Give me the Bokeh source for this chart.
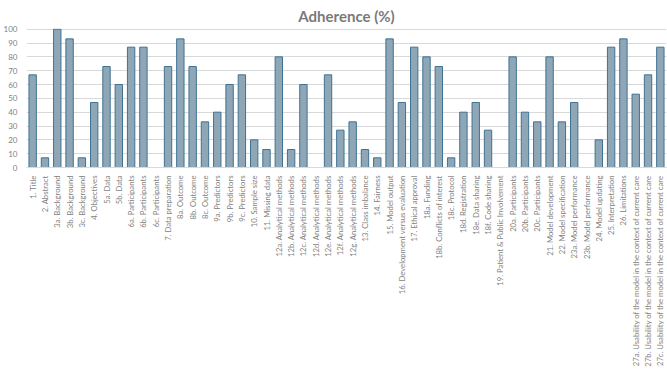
from bokeh.plotting import figure
from bokeh.models import FactorRange, Range1d, ColumnDataSource, FixedTicker
from bokeh.embed import file_html
from bokeh.resources import INLINE
import math

categories = [
    "1. Title", "2. Abstract", "3a. Background", "3b. Background", "3c. Background",
    "4. Objectives", "5a. Data", "5b. Data", "6a. Participants", "6b. Participants",
    "6c. Participants", "7. Data preparation", "8a. Outcome", "8b. Outcome", "8c. Outcome",
    "9a. Predictors", "9b. Predictors", "9c. Predictors", "10. Sample size", "11. Missing data",
    "12a. Analytical methods", "12b. Analytical methods", "12c. Analytical methods",
    "12d. Analytical methods", "12e. Analytical methods", "12f. Analytical methods",
    "12g. Analytical methods", "13. Class imbalance", "14. Fairness", "15. Model output",
    "16. Development versus evaluation", "17. Ethical approval", "18a. Funding",
    "18b. Conflicts of interest", "18c. Protocol", "18d. Registration", "18e. Data sharing",
    "18f. Code sharing", "19. Patient & Public Involvement", "20a. Participants",
    "20b. Participants", "20c. Participants", "21. Model development",
    "22. Model specification", "23a. Model performance", "23b. Model performance",
    "24. Model updating", "25. Interpretation", "26. Limitations",
    "27a. Usability of the model in the context of current care",
    "27b. Usability of the model in the context of current care",
    "27c. Usability of the model in the context of current care",
]
adherence = [
    67, 7, 100, 93, 7,
    47, 73, 60, 87, 87,
    0, 73, 93, 73, 33,
    40, 60, 67, 20, 13,
    80, 13, 60,
    0, 67, 27,
    33, 13, 7, 93,
    47, 87, 80,
    73, 7, 40, 47,
    27, 0, 80,
    40, 33, 80,
    33, 47, 0,
    20, 87, 93,
    53,
    67,
    87,
]
y_ticks = list(range(0, 101, 10))

FONT = "Lato"
src = ColumnDataSource(data=dict(cat=categories, val=adherence))

p = figure(width=667, height=369, output_backend="svg", toolbar_location=None,
           x_range=FactorRange(factors=categories, range_padding=0),
           y_range=Range1d(0, 100.5), title="Adherence (%)",
           min_border_left=0, min_border_right=1, min_border_top=0, min_border_bottom=0)

p.vbar(x="cat", top="val", width=0.6, source=src,
       fill_color="#8fa6b7", line_color="#3f7393", line_width=1)

p.title.align = "center"
p.title.text_font = FONT
p.title.text_font_size = "15px"
p.title.text_font_style = "bold"
p.title.text_color = "#7a7a7a"
p.title.standoff = 8

p.outline_line_color = None
p.xgrid.grid_line_color = None
p.ygrid.grid_line_color = "#d9d9d9"
p.ygrid.grid_line_width = 1

p.yaxis.ticker = FixedTicker(ticks=y_ticks)
p.yaxis.axis_line_color = None
p.yaxis.major_tick_line_color = None
p.yaxis.minor_tick_line_color = None
p.yaxis.major_label_text_font = FONT
p.yaxis.major_label_text_font_size = "8px"
p.yaxis.major_label_text_color = "#7f7f7f"
p.yaxis.major_label_standoff = 3

p.xaxis.axis_line_color = "#d9d9d9"
p.xaxis.major_tick_line_color = None
p.xaxis.minor_tick_line_color = None
p.xaxis.major_label_orientation = math.pi / 2
p.xaxis.major_label_text_font = FONT
p.xaxis.major_label_text_font_size = "7.7px"
p.xaxis.major_label_text_color = "#7f7f7f"
p.xaxis.major_label_standoff = 2

open("out.html", "w").write(file_html(p, INLINE))
